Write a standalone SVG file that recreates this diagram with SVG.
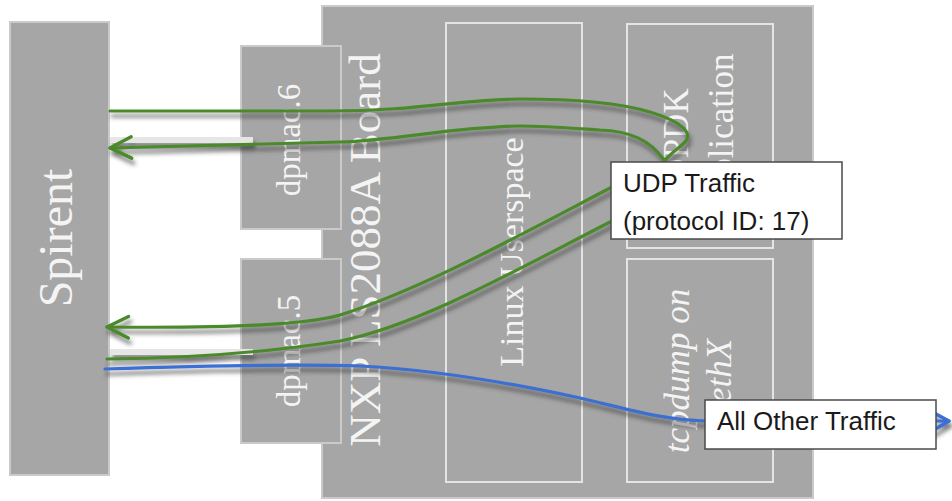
<svg xmlns="http://www.w3.org/2000/svg" width="952" height="501" viewBox="0 0 952 501">
<style>
.box{fill:#a6a6a6;stroke:#cacaca;stroke-width:2}
.inner{fill:none;stroke:#e4e4e4;stroke-width:2}
.t{font-family:"Liberation Serif","Times New Roman",serif;fill:#f4f4f4;text-anchor:middle}
.ti{font-family:"Liberation Serif","Times New Roman",serif;fill:#f4f4f4;text-anchor:middle;font-style:italic}
.lbl{fill:#ffffff;stroke:#4a4a4a;stroke-width:1.5}
.lt{font-family:"Liberation Sans",Arial,sans-serif;font-size:26px;fill:#1a1a1a}
.g{fill:none;stroke:#4b8a2c;stroke-width:3.2;stroke-linecap:round}
.b{fill:none;stroke:#3a6fd2;stroke-width:3.2;stroke-linecap:round}
.w{fill:none;stroke:#e6e6e6;stroke-width:6}
</style>
<defs>
<filter id="sh" x="-10%" y="-50%" width="120%" height="200%">
<feDropShadow dx="2" dy="5" stdDeviation="2" flood-color="#3a3a3a" flood-opacity="0.7"/>
</filter>
<marker id="ag" markerUnits="userSpaceOnUse" markerWidth="30" markerHeight="30" viewBox="-24 -14 28 28" refX="0" refY="0" orient="auto">
<path d="M-20,-10 L0,0 L-20,10" fill="none" stroke="#4b8a2c" stroke-width="3.2" stroke-linecap="round" stroke-linejoin="round"/>
</marker>
<marker id="ab" markerUnits="userSpaceOnUse" markerWidth="30" markerHeight="30" viewBox="-24 -14 28 28" refX="0" refY="0" orient="auto">
<path d="M-17,-9 L0,0 L-17,10" fill="none" stroke="#3a6fd2" stroke-width="3.2" stroke-linecap="round" stroke-linejoin="round"/>
</marker>
</defs>
<rect width="952" height="501" fill="#ffffff"/>

<g id="spirent">
<rect class="box" x="10" y="22" width="99" height="453"/>
<text class="t" font-size="48" transform="translate(72,238) rotate(-90)">Spirent</text>
</g>

<g id="board">
<rect class="box" x="322" y="6" width="491" height="492"/>
<text class="t" font-size="45" transform="translate(380,250) rotate(-90)">NXP LS2088A Board</text>
</g>

<g id="linux-userspace">
<rect class="inner" x="446" y="23" width="136" height="459"/>
<text class="t" font-size="34" transform="translate(523,252) rotate(-90)">Linux Userspace</text>
</g>

<g id="dpdk-application">
<rect class="inner" x="627" y="24" width="146" height="224"/>
<text class="t" font-size="35" transform="translate(688,136) rotate(-90)">DPDK</text>
<text class="t" font-size="35" transform="translate(733,136) rotate(-90)">Application</text>
</g>

<g id="tcpdump">
<rect class="inner" x="627" y="259" width="146" height="223"/>
<text class="ti" font-size="35" transform="translate(689,371) rotate(-90)">tcpdump on</text>
<text class="ti" font-size="35" transform="translate(731,371) rotate(-90)">ethX</text>
</g>

<g id="dpmac6">
<rect class="box" x="241" y="46" width="100" height="183"/>
<text class="t" font-size="33" transform="translate(300,140) rotate(-90)">dpmac.6</text>
</g>

<g id="dpmac5">
<rect class="box" x="241" y="259" width="100" height="184"/>
<text class="t" font-size="33" transform="translate(300,351) rotate(-90)">dpmac.5</text>
</g>

<g id="connectors" filter="url(#sh)">
<path class="w" d="M110,140 L253,140"/>
<path class="w" d="M110,352 L253,352"/>
<path class="g" d="M110,111 L330,111 C420,111 460,99 520,99 C580,99 620,103 650,112 C680,121 695,133 684,143 C678,149 670,153 664,162"/>
<path class="g" marker-end="url(#ag)" d="M664,160 C650,140 630,131 600,130 C570,128 545,126 520,126 C450,127 400,140 340,142 L110,148"/>
<path class="g" marker-end="url(#ag)" d="M612,187 C520,235 420,290 340,315 C300,327 200,328 107,327"/>
<path class="g" d="M107,359 C200,358 270,352 340,341 C420,325 520,268 612,221"/>
<path class="b" marker-end="url(#ab)" d="M105,369 C200,366 300,364 360,366 C440,370 520,385 580,398 C620,407 660,420 706,421 L949,421"/>
</g>

<g id="udp-label">
<rect class="lbl" x="611" y="162" width="231" height="77"/>
<text class="lt" x="623" y="192">UDP Traffic</text>
<text class="lt" x="623" y="230">(protocol ID: 17)</text>
</g>

<g id="other-label">
<rect class="lbl" x="705" y="400" width="231" height="49"/>
<text class="lt" x="717" y="430">All Other Traffic</text>
</g>
</svg>
